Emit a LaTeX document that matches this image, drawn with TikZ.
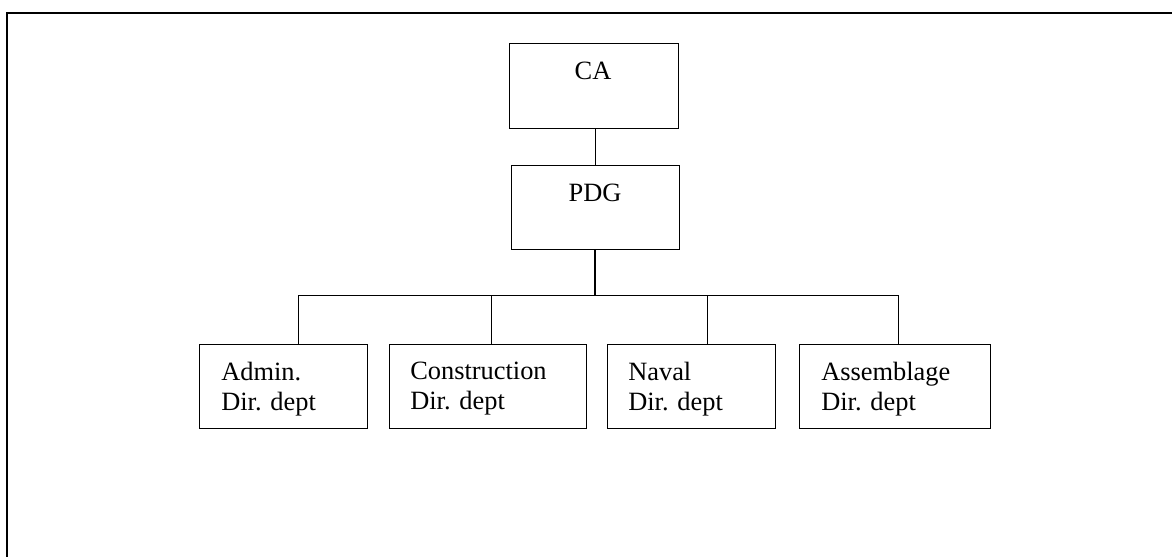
\documentclass[tikz,border=0pt]{standalone}
\usepackage{fontspec}
\setmainfont{Liberation Serif}

\tikzset{
  orgbox/.style={draw, line width=0.75pt, inner sep=0pt},
  boxtext/.style={inner sep=0pt, font=\fontsize{19.8}{22.5}\selectfont},
  link/.style={line width=0.75pt},
}

\begin{document}
\begin{tikzpicture}[x=0.75pt,y=0.75pt,yscale=-1,xscale=1]
\useasboundingbox (0,0) rectangle (1172,557);

%Frame
\draw[line width=1.5pt] (6.5,557) -- (6.5,12.5) -- (1172,12.5);

%Boxes
\node[orgbox, minimum width=126.75pt, minimum height=63.75pt] (ca) at (593.5,85.5) {};
\node[orgbox, minimum width=126pt, minimum height=63pt] (pdg) at (595,207) {};
\node[orgbox, minimum width=126pt, minimum height=63pt] (adm) at (283,386) {};
\node[orgbox, minimum width=147.75pt, minimum height=63pt] (cons) at (487.5,386) {};
\node[orgbox, minimum width=126pt, minimum height=63pt] (nav) at (691,386) {};
\node[orgbox, minimum width=143.25pt, minimum height=63pt] (ass) at (894.5,386) {};

% Text Node
\node[boxtext, anchor=base] (ca-txt) at (593,79) {CA};
% Text Node
\node[boxtext, anchor=base] (pdg-txt) at (595,201) {PDG};
% Text Node
\node[boxtext, anchor=north west, align=left] (adm-txt) at (221,362) {Admin.\\Dir. dept};
% Text Node
\node[boxtext, anchor=north west, align=left] (cons-txt) at (410,362) {Construction\\Dir. dept};
% Text Node
\node[boxtext, anchor=north west, align=left] (nav-txt) at (628,362) {Naval\\Dir. dept};
% Text Node
\node[boxtext, anchor=north west, align=left] (ass-txt) at (821,362) {Assemblage\\Dir. dept};

%Branch points
\coordinate (dA) at (298,295);
\coordinate (dB) at (491,295);
\coordinate (dC) at (707,295);
\coordinate (dD) at (898,295);

%Connectors
\draw[link] (pdg.north) -- (pdg.north |- ca.south);
\draw[line width=1.1pt] (pdg.south) -- (pdg.south |- dA);
\draw[link] (dA) -- (dD);
\draw[link] (dA) -- (dA |- adm.north);
\draw[link] (dB) -- (dB |- cons.north);
\draw[link] (dC) -- (dC |- nav.north);
\draw[link] (dD) -- (dD |- ass.north);

\end{tikzpicture}
\end{document}
